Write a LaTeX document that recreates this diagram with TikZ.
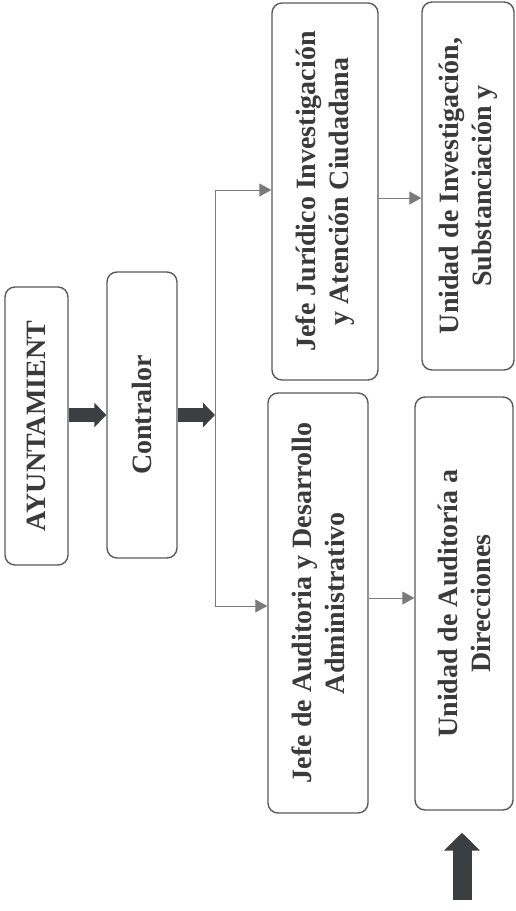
\documentclass[tikz,border=0pt]{standalone}
\usepackage{fontspec}
\setmainfont{Liberation Serif}
\usetikzlibrary{positioning, arrows.meta, calc}
\definecolor{ink}{HTML}{3a3a3a}
\definecolor{rim}{HTML}{5a5a5a}
\definecolor{wire}{HTML}{7a7a7a}
\definecolor{heavy}{HTML}{3c3f42}

\begin{document}
\begin{tikzpicture}[
  x=1pt, y=-1pt,
  font=\fontsize{28}{33}\selectfont\bfseries,
  box/.style={draw=rim, line width=1.4pt, rounded corners=10pt, rotate=90, align=center, inner sep=2pt, text=ink},
  fat/.style={-{Triangle[length=12pt, width=24pt]}, line width=14pt, heavy},
  thin/.style={-{Triangle[length=12pt, width=13pt]}, line width=0.9pt, wire},
  bigup/.style={-{Triangle[length=18pt, width=35pt]}, line width=19pt, heavy}
]
  \useasboundingbox (0,0) rectangle (516,911);

  % Column 1 -- ayuntamiento
  \node[box, minimum width=278pt, minimum height=63pt] (ayun) at (36.5,426) {AYUNTAMIENT};

  % Column 2 -- contralor
  \node[box, minimum width=286pt, minimum height=70pt] (contr) at (142,415) {Contralor};

  % Column 3 -- jefaturas
  \node[box, minimum width=377pt, minimum height=106pt] (jur) at (325,191.5) {Jefe Jurídico Investigación\\y Atención Ciudadana};
  \node[box, minimum width=420pt, minimum height=100pt] (aud) at (318,603) {Jefe de Auditoria y Desarrollo\\Administrativo};

  % Column 4 -- unidades
  \node[box, minimum width=368pt, minimum height=92pt] (inv) at (468,186) {Unidad de Investigación,\\Substanciación y};
  \node[box, minimum width=413pt, minimum height=98pt] (uaud) at (464,603.5) {Unidad de Auditoría a\\Direcciones};

  % split line
  \coordinate (jtop) at (215,190);
  \coordinate (jbot) at (215,606);
  \coordinate (tail) at (462,900);

  % arrows
  \draw[fat] (ayun.south |- 0,415) -- (contr.north |- 0,415);
  \draw[fat] (contr.south |- 0,415) -- (jtop |- 0,415);
  \draw[wire, line width=0.9pt] (jtop) -- (jbot);
  \draw[thin] (jtop) -- (jtop -| jur.north);
  \draw[thin] (jbot) -- (jbot -| aud.north);
  \draw[thin] ([yshift=-6.5pt]jur.south) -- ([yshift=-6.5pt]jur.south -| inv.north);
  \draw[thin] ([yshift=5pt]aud.south) -- ([yshift=5pt]aud.south -| uaud.north);
  \draw[bigup, shorten >=22pt] (tail) -- (tail |- uaud.west);
\end{tikzpicture}
\end{document}
